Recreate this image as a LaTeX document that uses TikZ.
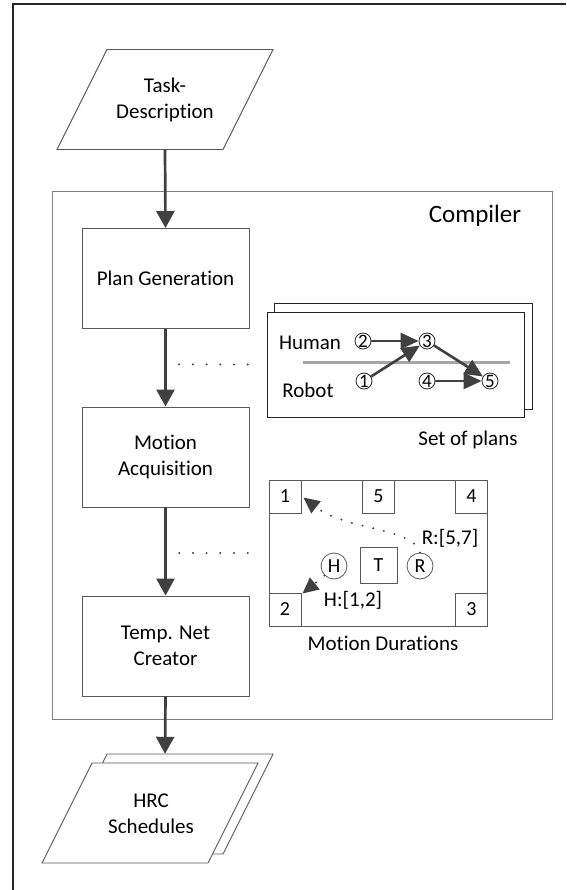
\documentclass[tikz,border=0pt]{standalone}
\usepackage{fontspec}
\setmainfont{Carlito}[Ligatures={NoCommon}]
\usetikzlibrary{arrows.meta,calc}
\definecolor{arrowgray}{HTML}{404040}
\definecolor{boxgray}{HTML}{595959}
\definecolor{compgray}{HTML}{808080}
\definecolor{linegray}{HTML}{A6A6A6}
\definecolor{framegray}{HTML}{262626}
\tikzset{
  frameline/.style={draw=framegray, line width=1.4pt},
  procbox/.style={draw=boxgray, line width=0.9pt, fill=white, minimum width=167pt, minimum height=100pt, inner sep=0pt, align=center, font=\fontsize{21}{26}\selectfont},
  paratext/.style={minimum width=166pt, minimum height=100pt, inner sep=0pt, align=center, font=\fontsize{21}{26}\selectfont},
  para/.style={draw=boxgray, line width=0.9pt, fill=white},
  compbox/.style={draw=compgray, line width=0.9pt, minimum width=500pt, minimum height=528pt, inner sep=0pt},
  mainarrow/.style={draw=arrowgray, line width=2.7pt, -{Triangle[length=17pt,width=18pt]}},
  dotline/.style={draw=arrowgray, line width=2.2pt, dash pattern=on 0pt off 13.7pt, line cap=round},
  dotarrow/.style={draw=arrowgray, line width=2.2pt, dash pattern=on 0pt off 11pt, line cap=round, -{Triangle[length=16pt,width=15pt]}},
  planbox/.style={draw=framegray, line width=0.9pt, fill=white, inner sep=0pt},
  pcirc/.style={circle, draw=framegray, line width=0.8pt, fill=white, minimum size=16pt, inner sep=0pt, font=\fontsize{19}{19}\selectfont},
  planarrow/.style={draw=arrowgray, line width=2.6pt, -{Triangle[length=18pt,width=16pt]}},
  lbl/.style={inner sep=0pt, font=\fontsize{21}{26}\selectfont},
  sqbox/.style={draw=boxgray, line width=0.9pt, fill=white, minimum width=32pt, minimum height=33pt, inner sep=0pt, font=\fontsize{20}{20}\selectfont},
  mcirc/.style={circle, draw=boxgray, line width=0.8pt, minimum size=26pt, inner sep=0pt, font=\fontsize{20}{20}\selectfont},
}
\begin{document}
\begin{tikzpicture}[x=1pt,y=-1pt]
\useasboundingbox (0,0) rectangle (566,890);
% outer frame (left and top)
\coordinate (fbl) at (13,890);
\coordinate (ftl) at (13,4);
\coordinate (ftr) at (566,4);
\draw[frameline] (fbl) -- (ftl) -- (ftr);

% compiler
\node[compbox] (comp) at (302,455) {};
\node[lbl, font=\fontsize{25}{25}\selectfont] (complbl) at (475,216) {Compiler};

% task description
\node[paratext] (task) at (165,99.5) {};
\draw[para] ($(task.center)+(-58,-50)$) -- ++(166,0) -- ++(-50,100) -- ++(-166,0) -- cycle;
\node[paratext] (tasktxt) at (165,100) {Task-\\Description};

% process boxes
\node[procbox] (pg) at (165.5,278.5) {Plan Generation};
\node[procbox] (ma) at (165.5,457) {Motion\\Acquisition};
\node[procbox] (tn) at (165.5,646) {Temp. Net\\Creator};

% HRC schedules
\node[paratext] (hrcback) at (165,804) {};
\draw[para] ($(hrcback.center)+(-58,-50)$) -- ++(166,0) -- ++(-50,100) -- ++(-166,0) -- cycle;
\node[paratext] (hrc) at (150,813) {};
\draw[para] ($(hrc.center)+(-58,-50)$) -- ++(166,0) -- ++(-50,100) -- ++(-166,0) -- cycle;
\node[paratext] (hrctxt) at (151,814) {HRC\\Schedules};

% main arrows
\draw[mainarrow] (task.south) -- (pg.north);
\draw[mainarrow] (pg.south) -- (ma.north);
\draw[mainarrow] (ma.south) -- (tn.north);
\draw[mainarrow] (tn.south) -- (hrcback.north);

% set of plans
\node[planbox, minimum width=258pt, minimum height=106pt] (plansback) at (403,356) {};
\node[planbox, minimum width=257pt, minimum height=105pt] (plans) at (395.5,364.5) {};
\coordinate (gl1) at (303,362);
\coordinate (gl2) at (510,362);
\draw[linegray, line width=3pt] (gl1) -- (gl2);
\node[lbl] (human) at (310,343) {Human};
\node[lbl] (robot) at (308,390) {Robot};
\node[pcirc] (c2) at (363,341) {2};
\node[pcirc] (c3) at (427,341) {3};
\node[pcirc] (c1) at (364,381) {1};
\node[pcirc] (c4) at (427,381) {4};
\node[pcirc] (c5) at (490,381) {5};
\draw[planarrow] (c2) -- (c3);
\draw[planarrow] (c1) -- (c3);
\draw[planarrow] (c3) -- (c5);
\draw[planarrow] (c4) -- (c5);
\node[lbl] (setlbl) at (468,440) {Set of plans};

% motion durations
\node[draw=boxgray, line width=0.9pt, minimum width=218pt, minimum height=146pt, inner sep=0pt] (md) at (378,553) {};
\node[sqbox] (s1) at (285,496.5) {1};
\node[sqbox] (s5) at (378.5,496.5) {5};
\node[sqbox] (s4) at (471.5,496.5) {4};
\node[sqbox] (s2) at (285,609.5) {2};
\node[sqbox] (s3) at (471.5,609.5) {3};
\node[sqbox, minimum width=37pt, minimum height=36pt] (tt) at (378.5,565) {T};
\node[mcirc] (hc) at (334,566) {H};
\node[mcirc] (rc) at (420,566) {R};
\node[lbl] (rlbl) at (450,538) {R:[5,7]};
\node[lbl] (hlbl) at (353,600) {H:[1,2]};
\draw[dotarrow] (rc.north) .. controls (415,528) and (345,530) .. ($(s1.east)+(2,1)$);
\draw[dotarrow] (hc.south west) -- ($(s2.north east)+(1,1)$);
\node[lbl] (mdlbl) at (383,643) {Motion Durations};

% dotted links
\draw[dotline] ($(pg.south)!0.456!(ma.north)$) -- ($(plans.west)+(-6,0)$);
\draw[dotline] ($(ma.south)!0.517!(tn.north)$) -- ($(md.west)+(-8,0)$);
\end{tikzpicture}
\end{document}
